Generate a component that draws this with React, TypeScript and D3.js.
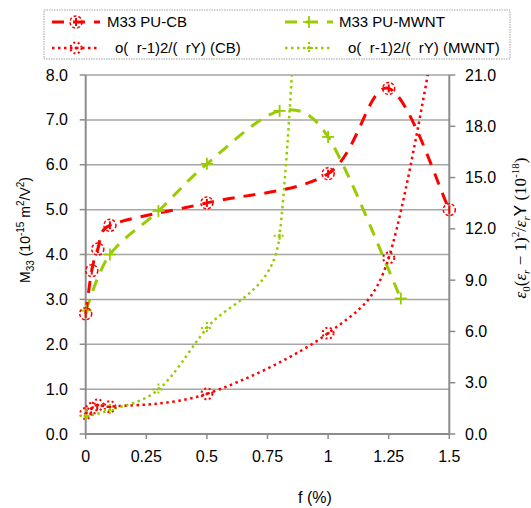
import React from 'react';
import * as d3 from 'd3';

// ---- data ----
const cbF = [0, 0.025, 0.05, 0.1, 0.5, 1.0, 1.25, 1.5];
const cbM33 = [2.68, 3.64, 4.12, 4.65, 5.15, 5.8, 7.7, 5.0];
const mwF = [0, 0.1, 0.3, 0.5, 0.8, 1.0, 1.3];
const mwM33 = [2.75, 4.0, 4.97, 6.02, 7.2, 6.62, 3.02];
const cbFom = [1.2, 1.5, 1.7, 1.6, 2.35, 5.9, 10.3, 28];
const mwF2 = [0, 0.1, 0.3, 0.5, 0.8, 1.0];
const mwFom = [1.05, 1.4, 2.6, 6.2, 11.6, 70];
const leftTicks = [0, 1, 2, 3, 4, 5, 6, 7, 8];
const rightTicks = [0, 3, 6, 9, 12, 15, 18, 21];
const xTicks = [0, 0.25, 0.5, 0.75, 1, 1.25, 1.5];
const xTickLabels = ['0', '0.25', '0.5', '0.75', '1', '1.25', '1.5'];
const legendLabels = ['M33 PU-CB', 'M33 PU-MWNT', 'o(  r-1)2/(  rY) (CB)', 'o(  r-1)2/(  rY) (MWNT)'];

const RED = '#ff0000';
const GREEN = '#99cc00';
const GRID = '#a6a6a6';
const AXIS = '#8c8c8c';

const L = 85.7, R = 449.3, T = 75, B = 434;

// Excel-like smoothed line: Bezier with tangents (P[i+1]-P[i-1])/6, each side limited to half the segment
function smoothPath(pts: [number, number][]): string {
  const p = d3.path();
  const n = pts.length;
  const tan = pts.map((_, i) => {
    const a = pts[Math.max(0, i - 1)], b = pts[Math.min(n - 1, i + 1)];
    return [(b[0] - a[0]) / 6, (b[1] - a[1]) / 6];
  });
  const clamp = (t: number[], maxLen: number) => {
    const len = Math.hypot(t[0], t[1]);
    if (len > maxLen && len > 0) return [t[0] * maxLen / len, t[1] * maxLen / len];
    return t;
  };
  p.moveTo(pts[0][0], pts[0][1]);
  for (let i = 0; i < n - 1; i++) {
    const P1 = pts[i], P2 = pts[i + 1];
    const seg = Math.hypot(P2[0] - P1[0], P2[1] - P1[1]);
    const t1 = clamp(tan[i], seg / 2);
    const t2 = clamp(tan[i + 1], seg / 2);
    p.bezierCurveTo(P1[0] + t1[0], P1[1] + t1[1], P2[0] - t2[0], P2[1] - t2[1], P2[0], P2[1]);
  }
  return p.toString();
}

export default function App() {
  const x = d3.scaleLinear().domain([0, 1.5]).range([L, R]);
  const yL = d3.scaleLinear().domain([0, 8]).range([B, T]);
  const yR = d3.scaleLinear().domain([0, 21]).range([B, T]);

  const mk = (xs: number[], ys: number[], sy: (v: number) => number) =>
    smoothPath(ys.map((v, i) => [x(xs[i]), sy(v)] as [number, number]));

  const cbPath = mk(cbF, cbM33, yL);
  const mwPath = mk(mwF, mwM33, yL);
  const cbFPath = mk(cbF, cbFom, yR);
  const mwFPath = mk(mwF2, mwFom, yR);

  const font = 'Liberation Sans, Arial, sans-serif';

  const cbMarker = (cx: number, cy: number, k: string) => (
    <g key={k}>
      <circle cx={cx} cy={cy} r={6} fill="none" stroke={RED} strokeWidth={1.5} strokeDasharray="3,2" />
      <line x1={cx} x2={cx} y1={cy - 4} y2={cy + 4} stroke={RED} strokeWidth={2} />
    </g>
  );
  const mwMarker = (cx: number, cy: number, k: string) => (
    <g key={k}>
      <line x1={cx - 6} x2={cx + 6} y1={cy} y2={cy} stroke={GREEN} strokeWidth={1.8} />
      <line x1={cx} x2={cx} y1={cy - 6} y2={cy + 6} stroke={GREEN} strokeWidth={1.8} />
    </g>
  );
  const cbFMarker = (cx: number, cy: number, k: string) => (
    <g key={k}>
      <circle cx={cx} cy={cy} r={5.5} fill="none" stroke={RED} strokeWidth={2} strokeDasharray="2,2.5" />
      <circle cx={cx} cy={cy} r={1.5} fill={RED} />
    </g>
  );
  const mwFMarker = (cx: number, cy: number, k: string) => (
    <g key={k}>
      <line x1={cx - 6} x2={cx + 6} y1={cy} y2={cy} stroke={GREEN} strokeWidth={2} strokeDasharray="2,2" />
      <line x1={cx} x2={cx} y1={cy - 6} y2={cy + 6} stroke={GREEN} strokeWidth={2} strokeDasharray="2,2" />
    </g>
  );

  const inPlot = (py: number) => py >= T - 8 && py <= B + 8;

  return (
    <svg width={531} height={508} style={{ position: 'absolute', left: 0, top: 0, background: '#fff' }} fontFamily={font}>
      <defs>
        <clipPath id="plot">
          <rect x={L - 10} y={T} width={R - L + 20} height={B - T + 10} />
        </clipPath>
      </defs>
      <rect x={0} y={0} width={531} height={508} fill="#fff" />
      {/* grid */}
      {leftTicks.slice(1).map((t) => (
        <line key={'g' + t} x1={L} x2={R} y1={yL(t)} y2={yL(t)} stroke={GRID} strokeWidth={1.5} />
      ))}
      {/* axes */}
      <line x1={L} x2={L} y1={T} y2={B} stroke={AXIS} strokeWidth={2} />
      <line x1={R} x2={R} y1={T} y2={B} stroke={AXIS} strokeWidth={2} />
      <line x1={L} x2={R} y1={B} y2={B} stroke={AXIS} strokeWidth={2} />
      {leftTicks.map((t) => (
        <g key={'lt' + t}>
          <line x1={L - 6} x2={L} y1={yL(t)} y2={yL(t)} stroke={AXIS} strokeWidth={1.5} />
          <text x={68} y={yL(t)} dy="0.35em" textAnchor="end" fontSize={16} fill="#000">{t.toFixed(1)}</text>
        </g>
      ))}
      {rightTicks.map((t) => (
        <g key={'rt' + t}>
          <line x1={R} x2={R + 6} y1={yR(t)} y2={yR(t)} stroke={AXIS} strokeWidth={1.5} />
          <text x={465} y={yR(t)} dy="0.35em" textAnchor="start" fontSize={16} fill="#000">{t.toFixed(1)}</text>
        </g>
      ))}
      {xTicks.map((t, i) => (
        <g key={'xt' + t}>
          <line x1={x(t)} x2={x(t)} y1={B} y2={B + 5} stroke={AXIS} strokeWidth={1.5} />
          <text x={x(t)} y={456} dy="0.35em" textAnchor="middle" fontSize={16} fill="#000">{xTickLabels[i]}</text>
        </g>
      ))}
      {/* series */}
      <g clipPath="url(#plot)">
        <path d={cbFPath} fill="none" stroke={RED} strokeWidth={2.5} strokeDasharray="2.5,3.5" />
        <path d={mwFPath} fill="none" stroke={GREEN} strokeWidth={2.5} strokeDasharray="2.5,3.5" />
        <path d={mwPath} fill="none" stroke={GREEN} strokeWidth={3} strokeDasharray="12,9" />
        <path d={cbPath} fill="none" stroke={RED} strokeWidth={3} strokeDasharray="12,9" />
      </g>
      {cbF.map((f, i) => inPlot(yR(cbFom[i])) ? cbFMarker(x(f), yR(cbFom[i]), 'cf' + i) : null)}
      {mwF2.map((f, i) => inPlot(yR(mwFom[i])) ? mwFMarker(x(f), yR(mwFom[i]), 'mf' + i) : null)}
      {mwF.map((f, i) => mwMarker(x(f), yL(mwM33[i]), 'mm' + i))}
      {cbF.map((f, i) => cbMarker(x(f), yL(cbM33[i]), 'cm' + i))}

      {/* axis titles */}
      <text transform="translate(25,230) rotate(-90)" textAnchor="middle" dy="0.35em" fontSize={14} fill="#000">
        M<tspan fontSize={10} dy={4}>33</tspan><tspan dy={-4}> (10</tspan><tspan fontSize={10} dy={-6}>-15</tspan><tspan dy={6}> m</tspan><tspan fontSize={10} dy={-6}>2</tspan><tspan dy={6}>/V</tspan><tspan fontSize={10} dy={-6}>2</tspan><tspan dy={6}>)</tspan>
      </text>
      <text x={315} y={497} dy="0.35em" textAnchor="middle" fontSize={16} fill="#000">f (%)</text>
      <text transform="translate(520,228) rotate(-90)" textAnchor="middle" dy="0.35em" fontSize={17} fill="#000" fontFamily="Liberation Serif, DejaVu Serif, serif">
        <tspan fontStyle="italic">ε</tspan><tspan fontSize={11} dy={4}>0</tspan><tspan dy={-4}>(</tspan><tspan fontStyle="italic">ε</tspan><tspan fontStyle="italic" fontSize={11} dy={4}>r</tspan><tspan dy={-4}> − 1)</tspan><tspan fontSize={11} dy={-7}>2</tspan><tspan dy={7}>/</tspan><tspan fontStyle="italic">ε</tspan><tspan fontStyle="italic" fontSize={11} dy={4}>r</tspan><tspan dy={-4} fontFamily={font}>Y</tspan><tspan> (10</tspan><tspan fontSize={11} dy={-7}>-18</tspan><tspan dy={7}>)</tspan>
      </text>

      {/* legend */}
      <rect x={44} y={10} width={466} height={49} fill="#fff" stroke="#a0a0a0" strokeWidth={1} strokeDasharray="1.5,1" />
      <line x1={52} x2={100} y1={22} y2={22} stroke={RED} strokeWidth={3} strokeDasharray="12,9" />
      {cbMarker(76, 22, 'l1')}
      <text x={107} y={22} dy="0.35em" fontSize={15}>{legendLabels[0]}</text>
      <line x1={285} x2={333} y1={22} y2={22} stroke={GREEN} strokeWidth={3} strokeDasharray="12,9" />
      {mwMarker(309, 22, 'l2')}
      <text x={339} y={22} dy="0.35em" fontSize={15}>{legendLabels[1]}</text>
      <line x1={52} x2={100} y1={48} y2={48} stroke={RED} strokeWidth={2.5} strokeDasharray="2.5,3.5" />
      {cbFMarker(76, 48, 'l3')}
      <text x={115} y={48} dy="0.35em" fontSize={15} style={{ whiteSpace: 'pre' }}>{legendLabels[2]}</text>
      <line x1={285} x2={333} y1={48} y2={48} stroke={GREEN} strokeWidth={2.5} strokeDasharray="2.5,3.5" />
      {mwFMarker(309, 48, 'l4')}
      <text x={348} y={48} dy="0.35em" fontSize={15} style={{ whiteSpace: 'pre' }}>{legendLabels[3]}</text>
    </svg>
  );
}
